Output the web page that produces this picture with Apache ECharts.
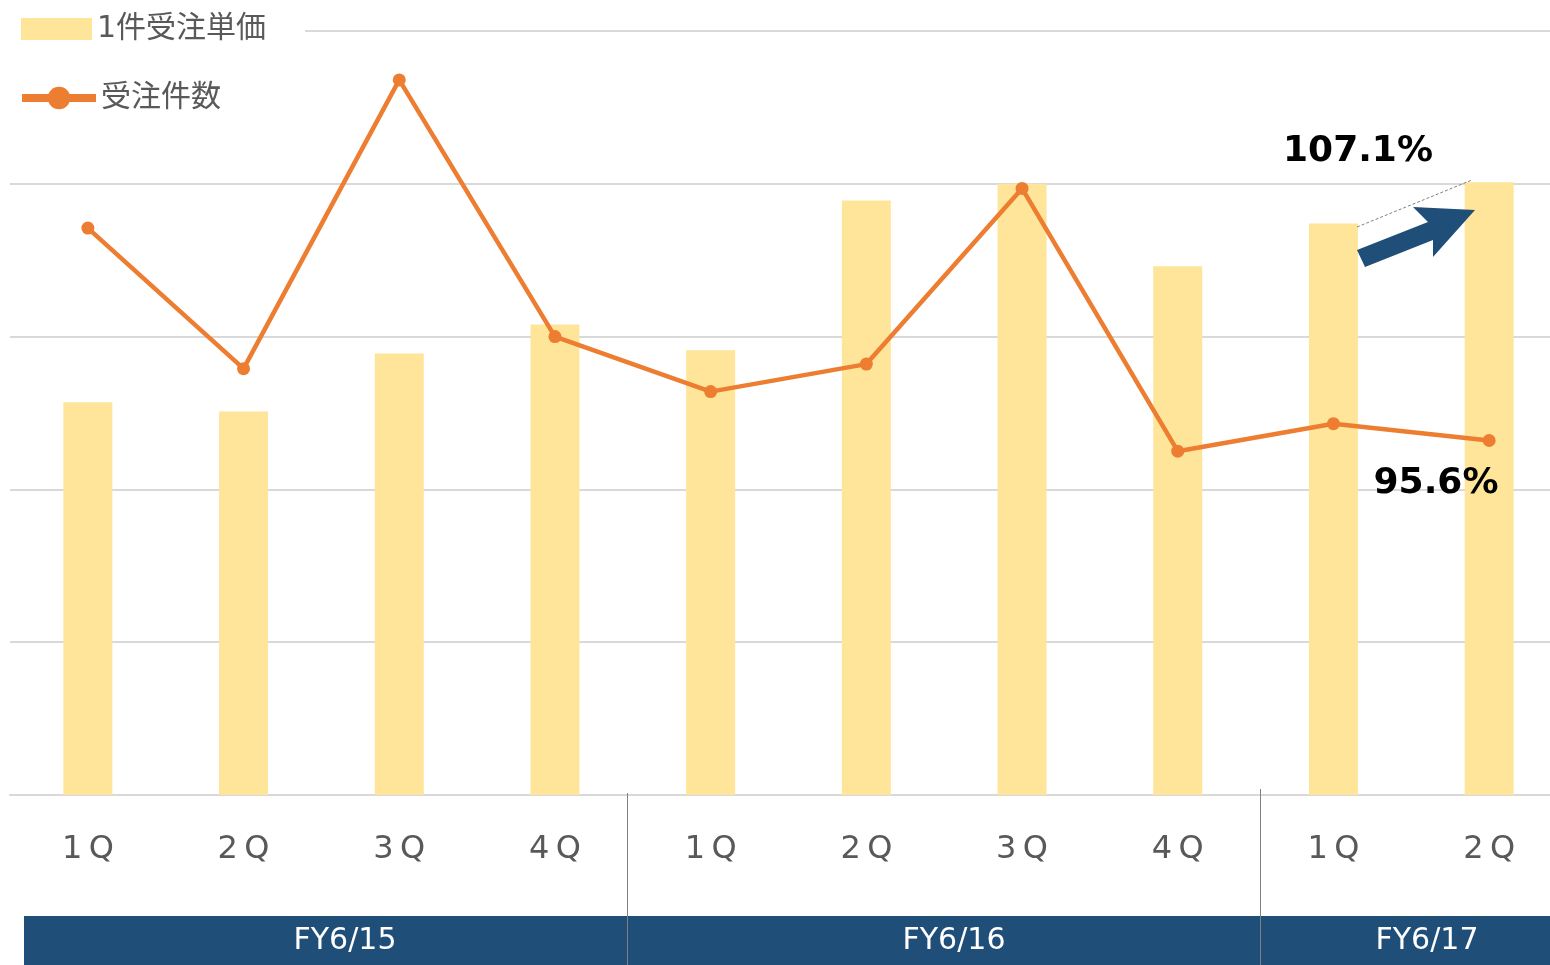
<!DOCTYPE html>
<html>
<head>
<meta charset="utf-8">
<script src="https://cdn.jsdelivr.net/npm/echarts@6/dist/echarts.min.js"></script>
<style>
  html, body { margin: 0; padding: 0; background: #fff; overflow: hidden; }
  #main { width: 1567px; height: 965px; }
</style>
</head>
<body>
<div id="main"></div>
<script>
// 四半期ラベル
var quarters = ['1Q', '2Q', '3Q', '4Q', '1Q', '2Q', '3Q', '4Q', '1Q', '2Q'];
// 年度
var fiscalYears = ['FY6/15', 'FY6/16', 'FY6/17'];
// 1件受注単価（目盛単位）
var unitPrice = [2.57, 2.51, 2.89, 3.08, 2.91, 3.89, 4.00, 3.46, 3.74, 4.01];
// 受注件数（目盛単位）
var orderCount = [3.71, 2.79, 4.68, 3.00, 2.64, 2.82, 3.97, 2.25, 2.43, 2.32];
// 注記
var notes = ['107.1%', '95.6%'];

var font = '"DejaVu Sans", "Noto Sans CJK JP", sans-serif';
var gray = '#595959';
var navy = '#1F4E79';
var orange = '#ED7D31';

var chart = echarts.init(document.getElementById('main'));

var option = {
    animation: false,
    textStyle: { fontFamily: font },
    legend: [
        {
            left: 16,
            top: 9,
            itemWidth: 71,
            itemHeight: 22,
            textStyle: { fontSize: 30, color: gray, fontFamily: font },
            data: [{ name: '1件受注単価', icon: 'rect' }]
        },
        {
            left: 13,
            top: 78,
            itemWidth: 74,
            itemHeight: 28,
            textStyle: { fontSize: 30, color: gray, fontFamily: font },
            lineStyle: { width: 8 },
            data: [{ name: '受注件数' }]
        }
    ],
    grid: {
        left: 10,
        right: 0,
        top: 31,
        bottom: 170
    },
    xAxis: {
        type: 'category',
        data: quarters,
        axisTick: { show: false },
        axisLine: { lineStyle: { color: '#d9d9d9', width: 2 } },
        axisLabel: {
            fontSize: 32,
            color: gray,
            margin: 39,
            formatter: function (v) { return v.split('').join('\u2009'); }
        }
    },
    yAxis: {
        type: 'value',
        min: 0,
        max: 5,
        interval: 1,
        axisLabel: { show: false },
        axisLine: { show: false },
        axisTick: { show: false },
        splitLine: { lineStyle: { color: '#d9d9d9', width: 2 } }
    },
    series: [
        {
            name: '1件受注単価',
            type: 'bar',
            data: unitPrice,
            barWidth: 49,
            itemStyle: { color: '#FEE599' }
        },
        {
            name: '受注件数',
            type: 'line',
            data: orderCount,
            symbol: 'circle',
            symbolSize: 13,
            lineStyle: { color: orange, width: 4.5 },
            itemStyle: { color: orange },
            z: 3
        }
    ],
    graphic: [
        // 凡例の背後のグリッド線を隠す
        { type: 'rect', z: 1, shape: { x: 0, y: 20, width: 305, height: 24 }, style: { fill: '#fff' } },
        // 年度バンド
        { type: 'rect', z: 1, shape: { x: 24, y: 916, width: 1526, height: 49 }, style: { fill: navy } },
        { type: 'text', z: 2, x: 345, y: 941, style: { text: fiscalYears[0], fill: '#fff', font: '30px ' + font, align: 'center', verticalAlign: 'middle' } },
        { type: 'text', z: 2, x: 954, y: 941, style: { text: fiscalYears[1], fill: '#fff', font: '30px ' + font, align: 'center', verticalAlign: 'middle' } },
        { type: 'text', z: 2, x: 1427, y: 941, style: { text: fiscalYears[2], fill: '#fff', font: '30px ' + font, align: 'center', verticalAlign: 'middle' } },
        // 区切り線
        { type: 'line', z: 3, shape: { x1: 627.5, y1: 793, x2: 627.5, y2: 965 }, style: { stroke: '#808080', lineWidth: 1 } },
        { type: 'line', z: 3, shape: { x1: 1260.5, y1: 789, x2: 1260.5, y2: 965 }, style: { stroke: '#808080', lineWidth: 1 } },
        // 注記
        { type: 'text', z: 5, x: 1358, y: 152, style: { text: notes[0], fill: '#000', font: 'bold 36px ' + font, align: 'center', verticalAlign: 'middle' } },
        { type: 'text', z: 5, x: 1436, y: 484, style: { text: notes[1], fill: '#000', font: 'bold 36px ' + font, align: 'center', verticalAlign: 'middle' } },
        { type: 'line', z: 5, shape: { x1: 1357, y1: 227, x2: 1472, y2: 180 }, style: { stroke: '#808080', lineWidth: 1, lineDash: [3, 2] } },
        {
            type: 'polygon', z: 5,
            shape: { points: [[1357, 250], [1428, 222], [1413, 207], [1475, 210], [1433, 257], [1433, 240], [1365, 267]] },
            style: { fill: navy }
        }
    ]
};

chart.setOption(option);
</script>
</body>
</html>
